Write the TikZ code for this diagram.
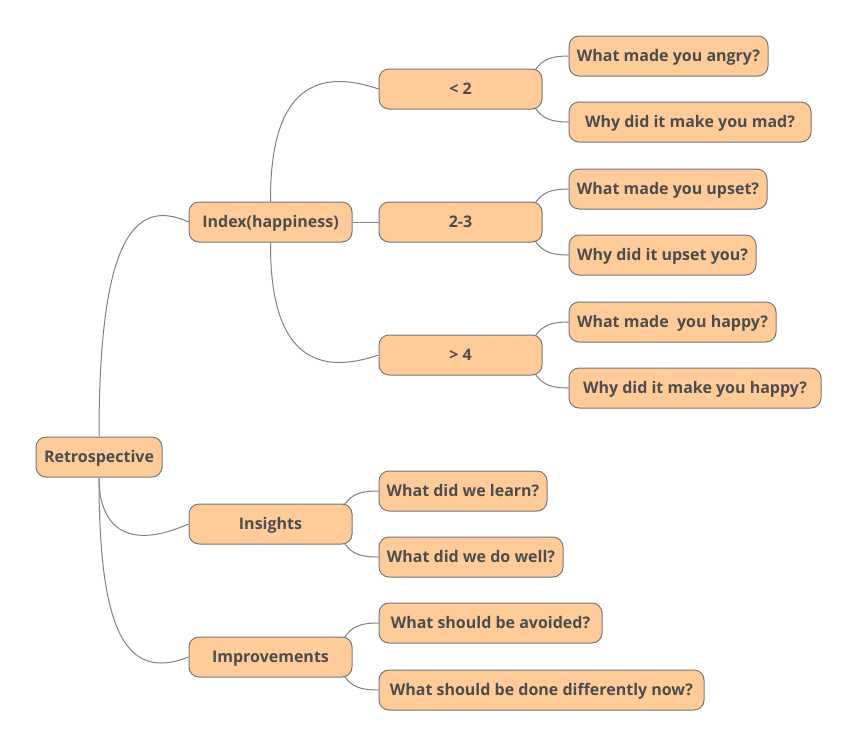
\documentclass[tikz,border=0pt]{standalone}
\usepackage{fontspec}
\setmainfont{Open Sans}
\usetikzlibrary{calc}
\definecolor{boxfill}{HTML}{FFCC99}
\definecolor{boxline}{HTML}{777777}
\definecolor{textc}{HTML}{4D4D4D}
\definecolor{linec}{HTML}{808080}
\tikzset{
  box/.style={draw=boxline, fill=boxfill, rounded corners=10pt, line width=1pt,
    text=textc, font=\fontsize{16}{18}\selectfont\bfseries, minimum height=40pt, inner sep=0pt, align=center,
    text depth=0pt, text height=11.5pt},
  conn/.style={draw=linec, line width=1pt}
}
\begin{document}
\begin{tikzpicture}[x=1pt,y=-1pt]
\useasboundingbox[fill=white] (0,0) rectangle (859,748);
% nodes
\node[box, minimum width=126pt] (retro) at (99,457) {Retrospective};
\node[box, minimum width=163pt] (index) at (270.5,222) {Index(happiness)};
\node[box, minimum width=163pt] (insights) at (270.5,524) {Insights};
\node[box, minimum width=163pt] (improve) at (270.5,657) {Improvements};
\node[box, minimum width=163pt] (lt2) at (460.5,89) {< 2};
\node[box, minimum width=163pt] (mid) at (460.5,222) {2-3};
\node[box, minimum width=163pt] (gt4) at (460.5,355) {> 4};
\node[box, minimum width=199pt] (angry) at (668.5,56) {What made you angry?};
\node[box, minimum width=242pt] (mad) at (690,122) {Why did it make you mad?};
\node[box, minimum width=198pt] (upset) at (668,189) {What made you upset?};
\node[box, minimum width=187pt] (upsetyou) at (662.5,255) {Why did it upset you?};
\node[box, minimum width=207pt] (happy) at (672.5,322) {What made \ you happy?};
\node[box, minimum width=252pt] (happyq) at (695,388) {Why did it make you happy?};
\node[box, minimum width=168pt] (learn) at (463,491) {What did we learn?};
\node[box, minimum width=184pt] (well) at (471,557) {What did we do well?};
\node[box, minimum width=223pt] (avoid) at (490.5,623) {What should be avoided?};
\node[box, minimum width=325pt] (diff) at (541.5,690) {What should be done differently now?};
% main connectors
\draw[conn] (retro.north) .. controls (99,250) and (130,195) .. (index.west);
\draw[conn] (retro.south) .. controls (99,525) and (125,552) .. (insights.west);
\draw[conn] (retro.south) .. controls (99,630) and (125,682) .. (improve.west);
\draw[conn] (index.north) .. controls (270,110) and (300,62) .. (lt2.west);
\draw[conn] (index.east) -- (mid.west);
\draw[conn] (index.south) .. controls (270,334) and (300,382) .. (gt4.west);
% leaf connectors
\draw[conn] ($(lt2.north east)+(-7,1)$) .. controls (543,59) and (552,56) .. (angry.west);
\draw[conn] ($(lt2.south east)+(-7,-1)$) .. controls (543,119) and (552,122) .. (mad.west);
\draw[conn] ($(mid.north east)+(-7,1)$) .. controls (543,192) and (552,189) .. (upset.west);
\draw[conn] ($(mid.south east)+(-7,-1)$) .. controls (543,252) and (552,255) .. (upsetyou.west);
\draw[conn] ($(gt4.north east)+(-7,1)$) .. controls (543,325) and (552,322) .. (happy.west);
\draw[conn] ($(gt4.south east)+(-7,-1)$) .. controls (543,385) and (552,388) .. (happyq.west);
\draw[conn] ($(insights.north east)+(-8,1)$) .. controls (352,494) and (361,491) .. (learn.west);
\draw[conn] ($(insights.south east)+(-8,-1)$) .. controls (352,554) and (361,557) .. (well.west);
\draw[conn] ($(improve.north east)+(-8,1)$) .. controls (352,626) and (361,623) .. (avoid.west);
\draw[conn] ($(improve.south east)+(-8,-1)$) .. controls (352,687) and (361,690) .. (diff.west);
\end{tikzpicture}
\end{document}
